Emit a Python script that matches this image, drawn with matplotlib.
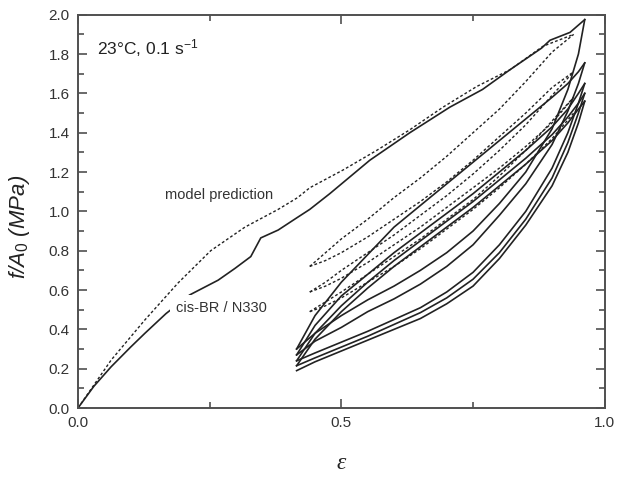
import matplotlib
matplotlib.use("Agg")
import matplotlib.pyplot as plt
from matplotlib.ticker import MultipleLocator

# ---------------- data ----------------
# experimental first loading (cis-BR / N330)
exp_load_strain = [0.0, 0.03, 0.063, 0.10, 0.127, 0.167, 0.212, 0.266, 0.298, 0.328, 0.347,
                   0.38, 0.417, 0.44, 0.478, 0.554, 0.63, 0.706, 0.768, 0.82, 0.88, 0.896,
                   0.934, 0.962]
exp_load_stress = [0.0, 0.11, 0.21, 0.31, 0.38, 0.48, 0.575, 0.65, 0.71, 0.77, 0.865,
                   0.905, 0.97, 1.01, 1.09, 1.26, 1.40, 1.53, 1.62, 1.72, 1.83, 1.87,
                   1.91, 1.975]

# experimental cyclic part (strain grid shared by loops)
exp_loop_strain = [0.415, 0.45, 0.5, 0.55, 0.6, 0.65, 0.7, 0.75, 0.8, 0.85, 0.9, 0.93, 0.95, 0.962]
exp_unload_1 = [0.30, 0.38, 0.47, 0.55, 0.62, 0.70, 0.79, 0.90, 1.04, 1.20, 1.42, 1.62, 1.80, 1.975]
exp_reload_1 = [0.30, 0.47, 0.64, 0.78, 0.92, 1.03, 1.14, 1.25, 1.36, 1.47, 1.58, 1.65, 1.71, 1.755]
exp_unload_2 = [0.27, 0.34, 0.41, 0.49, 0.555, 0.63, 0.72, 0.83, 0.98, 1.14, 1.34, 1.51, 1.65, 1.755]
exp_reload_2 = [0.27, 0.42, 0.57, 0.68, 0.79, 0.89, 0.99, 1.09, 1.20, 1.31, 1.43, 1.52, 1.60, 1.65]
exp_unload_3 = [0.24, 0.28, 0.335, 0.39, 0.45, 0.51, 0.59, 0.69, 0.83, 1.00, 1.22, 1.40, 1.55, 1.65]
exp_reload_3 = [0.24, 0.38, 0.52, 0.64, 0.75, 0.85, 0.95, 1.05, 1.16, 1.27, 1.39, 1.48, 1.55, 1.60]
exp_unload_4 = [0.215, 0.255, 0.31, 0.365, 0.425, 0.485, 0.56, 0.655, 0.79, 0.96, 1.17, 1.35, 1.50, 1.60]
exp_reload_4 = [0.215, 0.35, 0.49, 0.61, 0.72, 0.82, 0.92, 1.02, 1.13, 1.24, 1.36, 1.45, 1.52, 1.56]
exp_unload_5 = [0.19, 0.235, 0.29, 0.345, 0.40, 0.455, 0.53, 0.62, 0.76, 0.93, 1.13, 1.30, 1.45, 1.56]

# model prediction, first loading
mod_load_strain = [0.0, 0.063, 0.127, 0.19, 0.252, 0.317, 0.38, 0.417, 0.44, 0.503, 0.567,
                   0.63, 0.693, 0.757, 0.82, 0.883, 0.941]
mod_load_stress = [0.0, 0.244, 0.448, 0.636, 0.80, 0.92, 1.01, 1.07, 1.12, 1.21, 1.31,
                   1.415, 1.53, 1.635, 1.72, 1.84, 1.90]

# model prediction, cyclic part
mod_loop_strain = [0.44, 0.47, 0.5, 0.55, 0.6, 0.65, 0.7, 0.75, 0.8, 0.85, 0.9, 0.941]
mod_unload_1 = [0.72, 0.79, 0.86, 0.96, 1.07, 1.17, 1.28, 1.40, 1.52, 1.66, 1.81, 1.90]
mod_reload_1 = [0.72, 0.75, 0.79, 0.87, 0.96, 1.05, 1.15, 1.26, 1.38, 1.50, 1.63, 1.71]
mod_unload_2 = [0.59, 0.64, 0.70, 0.79, 0.88, 0.98, 1.08, 1.19, 1.31, 1.44, 1.59, 1.71]
mod_reload_2 = [0.59, 0.62, 0.66, 0.74, 0.83, 0.92, 1.02, 1.12, 1.22, 1.33, 1.45, 1.58]
mod_unload_3 = [0.49, 0.54, 0.59, 0.68, 0.77, 0.86, 0.96, 1.06, 1.18, 1.31, 1.46, 1.58]
mod_reload_3 = [0.49, 0.52, 0.56, 0.64, 0.72, 0.81, 0.91, 1.01, 1.12, 1.24, 1.37, 1.50]

x_ticks = [0.0, 0.5, 1.0]
y_ticks = [0.0, 0.2, 0.4, 0.6, 0.8, 1.0, 1.2, 1.4, 1.6, 1.8, 2.0]

# ---------------- drawing ----------------
plt.rcParams['font.family'] = ['Liberation Sans', 'DejaVu Sans']
plt.rcParams['mathtext.fontset'] = 'custom'
plt.rcParams['mathtext.rm'] = 'Liberation Sans'
plt.rcParams['mathtext.it'] = 'Liberation Sans:italic'

fig = plt.figure(figsize=(6.19, 4.82), dpi=100)
ax = fig.add_axes([0.126, 0.1535, 0.851, 0.816])

line_c = '#222222'
solid_kw = dict(color=line_c, lw=1.2, solid_joinstyle='round')
dash_kw = dict(color=line_c, lw=1.0, linestyle=(0, (2.0, 1.6)))

ax.plot(exp_load_strain, exp_load_stress, **solid_kw)
for ys in [exp_unload_1, exp_reload_1, exp_unload_2, exp_reload_2, exp_unload_3,
           exp_reload_3, exp_unload_4, exp_reload_4, exp_unload_5]:
    ax.plot(exp_loop_strain, ys, **solid_kw)

ax.plot(mod_load_strain, mod_load_stress, **dash_kw)
for ys in [mod_unload_1, mod_reload_1, mod_unload_2, mod_reload_2, mod_unload_3, mod_reload_3]:
    ax.plot(mod_loop_strain, ys, **dash_kw)

ax.set_xlim(0.0, 1.0)
ax.set_ylim(0.0, 2.0)
ax.set_xticks(x_ticks)
ax.set_yticks(y_ticks)
ax.xaxis.set_minor_locator(MultipleLocator(0.25))
ax.yaxis.set_minor_locator(MultipleLocator(0.1))
ax.set_xticklabels([f"{v:.1f}" for v in x_ticks])
ax.set_yticklabels([f"{v:.1f}" for v in y_ticks])

spine_c = '#505050'
for s in ax.spines.values():
    s.set_color(spine_c)
    s.set_linewidth(1.4)
ax.tick_params(which='both', direction='in', top=True, right=True, color=spine_c,
               width=1.2, labelcolor='#333333', labelsize=11)
ax.tick_params(which='major', length=6.5, pad=6)
ax.tick_params(which='minor', length=4)

ax.set_ylabel(r'f/A$_{\mathit{0}}$ (MPa)', fontstyle='italic', fontsize=16, color='#222222')
ax.yaxis.set_label_coords(-0.088, 0.46)
ax.set_xlabel('ε', fontfamily=['Liberation Serif', 'DejaVu Serif'], fontstyle='italic',
              fontsize=17, color='#222222', labelpad=16)

ax.text(0.036, 1.83, r'23°C, 0.1 s$^{\mathrm{-1}}$', fontsize=12.5, color='#222222',
        ha='left', va='center')
ax.text(0.165, 1.084, 'model prediction', fontsize=10.5, color='#333333', ha='left',
        va='center', bbox=dict(facecolor='white', edgecolor='none', pad=1.0))
ax.text(0.186, 0.509, 'cis-BR / N330', fontsize=10.5, color='#333333', ha='left',
        va='center', bbox=dict(facecolor='white', edgecolor='none', pad=4))

fig.savefig('out.png', dpi=100)
